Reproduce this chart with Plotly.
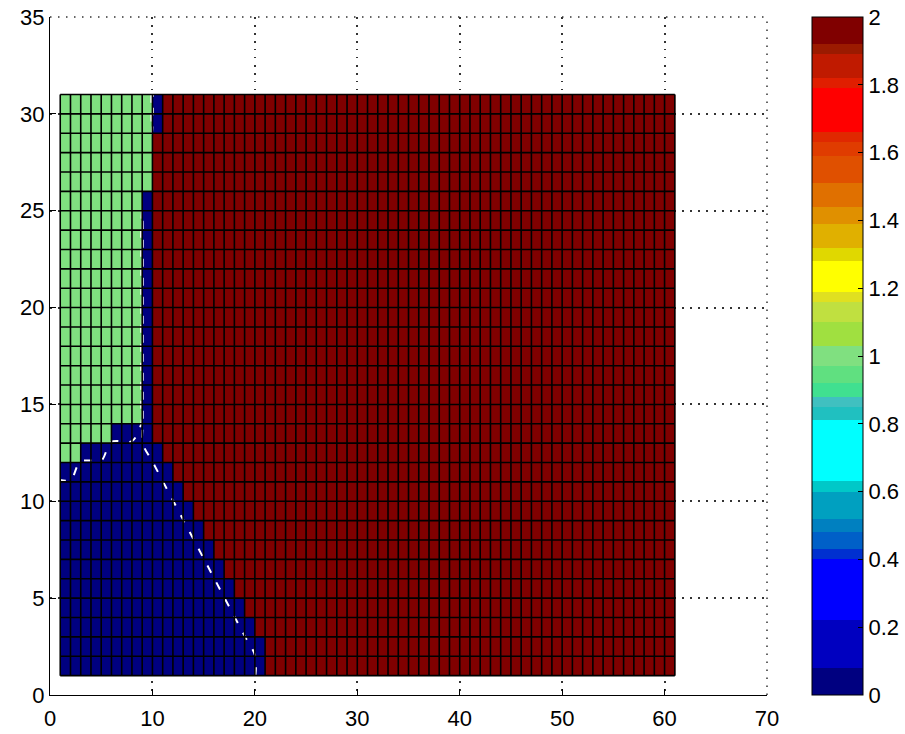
import plotly.graph_objects as go

# Mesh vertices of the pcolor-style grid
x_edges = list(range(1, 62))   # 1 .. 61
y_edges = list(range(1, 32))   # 1 .. 31

# Region codes
BLUE_STATE, GREEN_STATE, RED_STATE = 0, 1, 2

# For each vertex row (y = 1 .. 31): first column that is no longer green,
# and first column that belongs to the red region
green_end = [1, 1, 1, 1, 1, 1, 1, 1, 1, 1, 1,
             3, 6,
             9, 9, 9, 9, 9, 9, 9, 9, 9, 9, 9, 9,
             10, 10, 10, 10, 10, 10]
red_start = [21, 21, 20, 19, 18, 17, 16, 15, 14, 13, 12, 11, 10,
             10, 10, 10, 10, 10, 10, 10, 10, 10, 10, 10, 10, 10, 10, 10,
             11, 11, 11]

contour_level = 0.1

# Colour bar ticks
cbar_ticks = [0, 0.2, 0.4, 0.6, 0.8, 1, 1.2, 1.4, 1.6, 1.8, 2]
x_ticks = [0, 10, 20, 30, 40, 50, 60, 70]
y_ticks = [0, 5, 10, 15, 20, 25, 30, 35]

# Banded jet-like colormap: (lower, upper, colour)
cmap_bands = [
    (0.00, 0.08, "#000080"), (0.08, 0.22, "#0000C0"), (0.22, 0.40, "#0000FF"),
    (0.40, 0.43, "#0030D0"), (0.43, 0.48, "#0060C8"), (0.48, 0.52, "#0080C0"),
    (0.52, 0.60, "#00A0C0"), (0.60, 0.63, "#00C8C8"), (0.63, 0.81, "#00FFFF"),
    (0.81, 0.85, "#20C0C0"), (0.85, 0.88, "#40C0C0"), (0.88, 0.92, "#40E090"),
    (0.92, 0.97, "#60E080"), (0.97, 1.03, "#80E080"), (1.03, 1.10, "#A0E040"),
    (1.10, 1.16, "#C0E040"), (1.16, 1.19, "#E0E020"), (1.19, 1.28, "#FFFF00"),
    (1.28, 1.32, "#E0D800"), (1.32, 1.39, "#E0B000"), (1.39, 1.44, "#E09000"),
    (1.44, 1.51, "#E07000"), (1.51, 1.59, "#E05000"), (1.59, 1.63, "#E03C00"),
    (1.63, 1.66, "#E02800"), (1.66, 1.79, "#FF0000"), (1.79, 1.82, "#E01E00"),
    (1.82, 1.89, "#C01A00"), (1.89, 1.92, "#9B1A00"), (1.92, 2.00, "#800000"),
]
zmin, zmax = 0.0, 2.0

colorscale = []
for lo, hi, col in cmap_bands:
    colorscale.append([(lo - zmin) / (zmax - zmin), col])
    colorscale.append([(hi - zmin) / (zmax - zmin), col])

# Vertex data matrix
C = []
for g_end, r_start in zip(green_end, red_start):
    row = []
    for xv in x_edges:
        if xv < g_end:
            row.append(GREEN_STATE)
        elif xv >= r_start:
            row.append(RED_STATE)
        else:
            row.append(BLUE_STATE)
    C.append(row)

# pcolor colours each cell by its lower-left vertex
cells = [row[:-1] for row in C[:-1]]

FONT = "Liberation Sans, Arial, sans-serif"
GRID_COLOR = "#333333"
GRID_DASH = "1.5px,6.5px"

fig = go.Figure()

fig.add_trace(go.Heatmap(
    x=x_edges, y=y_edges, z=cells,
    zmin=zmin, zmax=zmax, colorscale=colorscale,
    hoverinfo="skip",
    colorbar=dict(
        x=1.0628, xanchor="left", xref="paper",
        y=0.5, yanchor="middle", len=1.0, lenmode="fraction",
        thickness=51, thicknessmode="pixels",
        xpad=0, ypad=0,
        outlinecolor="black", outlinewidth=1,
        tickvals=cbar_ticks, ticks="inside", ticklen=5, tickcolor="black",
        tickfont=dict(family=FONT, size=22, color="black"),
    ),
))

# Cell edges
gx, gy = [], []
for xv in x_edges:
    gx += [xv, xv, None]
    gy += [y_edges[0], y_edges[-1], None]
for yv in y_edges:
    gx += [x_edges[0], x_edges[-1], None]
    gy += [yv, yv, None]
fig.add_trace(go.Scatter(
    x=gx, y=gy, mode="lines",
    line=dict(color="black", width=1.6),
    hoverinfo="skip", showlegend=False,
))

# Dashed white contour of the vertex data
fig.add_trace(go.Contour(
    x=x_edges, y=y_edges, z=C,
    autocontour=False,
    contours=dict(start=contour_level, end=contour_level, size=1, coloring="none"),
    line=dict(color="white", width=2, dash="8px,11px"),
    showscale=False, hoverinfo="skip",
))

axis_common = dict(
    showline=True, linecolor="black", linewidth=1,
    ticks="inside", ticklen=6, tickcolor="black",
    showgrid=True, gridcolor=GRID_COLOR, gridwidth=1.5, griddash=GRID_DASH,
    zeroline=False, mirror=False,
    tickfont=dict(family=FONT, size=22, color="black"),
)

fig.update_layout(
    width=905, height=734,
    margin=dict(l=50, r=138, t=17, b=39, autoexpand=False),
    paper_bgcolor="white", plot_bgcolor="white",
    showlegend=False,
    xaxis=dict(range=[0, 70], tickvals=x_ticks, ticklabelstandoff=4, **axis_common),
    yaxis=dict(range=[0, 35], tickvals=y_ticks, **axis_common),
)

# Dotted grid lines along the top and right edges of the axes box
grid_edge = dict(color=GRID_COLOR, width=1.5, dash=GRID_DASH)
fig.add_shape(type="line", xref="paper", yref="paper", x0=0, x1=1, y0=1, y1=1,
              line=grid_edge, layer="below")
fig.add_shape(type="line", xref="paper", yref="paper", x0=1, x1=1, y0=0, y1=1,
              line=grid_edge, layer="below")

fig.write_html("out.html")
